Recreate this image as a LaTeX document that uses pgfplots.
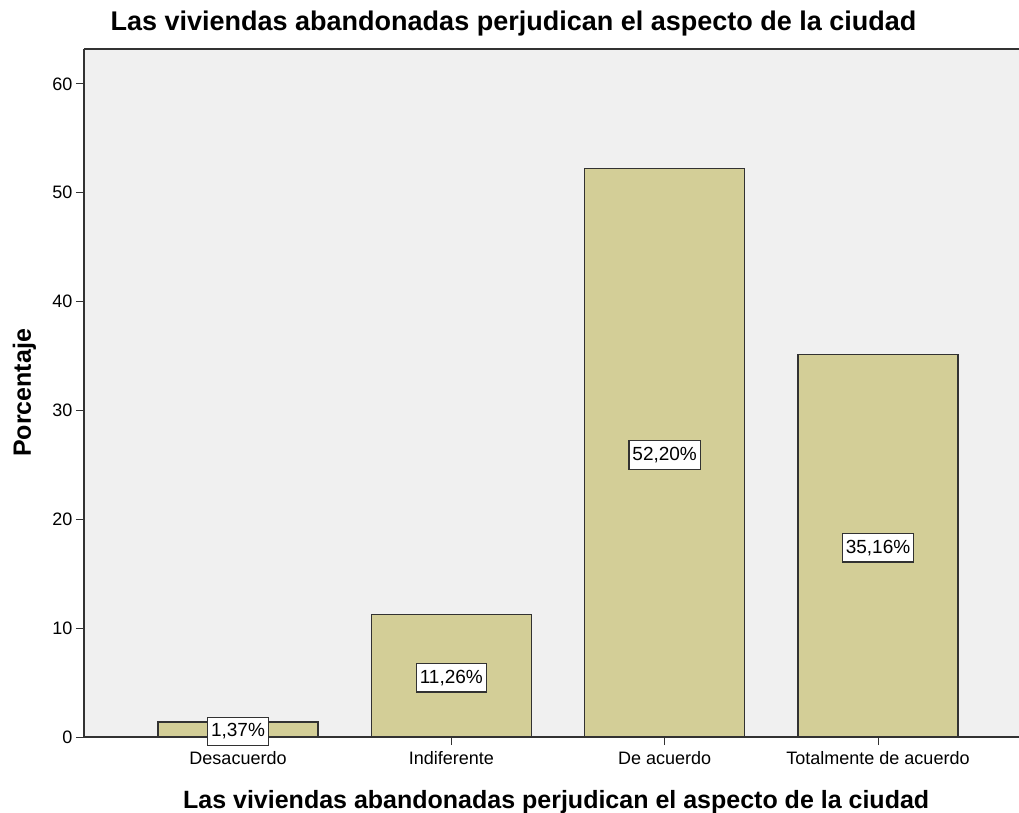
\documentclass[border=0pt]{standalone}
\usepackage{pgfplots}
\pgfplotsset{compat=1.18}
\usepackage{fontspec}
\setmainfont{Liberation Sans}
\definecolor{barfill}{RGB}{211,206,151}
\definecolor{bgc}{RGB}{240,240,240}
\definecolor{edge}{RGB}{50,50,50}
\begin{document}
\begin{tikzpicture}
\begin{axis}[
  scale only axis, width=935pt, height=688pt,
  xmin=-0.722, xmax=3.661, ymin=0, ymax=63.2,
  axis x line=box, axis y line=left,
  axis line style={-, draw=edge, line width=1.3pt},
  axis background/.style={fill=bgc},
  xtick={0,1,2,3},
  xticklabels={Desacuerdo, Indiferente, De acuerdo, Totalmente de acuerdo},
  ytick={0,10,...,60},
  xtick pos=bottom, ytick pos=left,
  tick align=outside, major tick length=8pt,
  tick style={draw=edge, line width=1pt},
  ticklabel style={font=\fontsize{18}{20}\selectfont},
  xticklabel style={yshift=-3pt},
  /pgf/number format/assume math mode=true,
  title={Las viviendas abandonadas perjudican el aspecto de la ciudad},
  title style={font=\bfseries\fontsize{27}{30}\selectfont, at={([yshift=12pt]axis description cs:0.4594,1)}, anchor=base},
  xlabel={Las viviendas abandonadas perjudican el aspecto de la ciudad},
  xlabel style={font=\bfseries\fontsize{25}{28}\selectfont, at={([yshift=-71pt]axis description cs:0.505,0)}, anchor=base},
  ylabel={Porcentaje},
  ylabel style={font=\bfseries\fontsize{25}{28}\selectfont, at={([xshift=-53pt]axis description cs:0,0.5)}, anchor=base, rotate=0},
]
\coordinate (O) at (rel axis cs:0,0);
\addplot[ybar, bar width=0.75, fill=barfill, draw=edge, line width=1.2pt]
  coordinates {(0,1.37) (1,11.26) (2,52.20) (3,35.16)};
\addplot[draw=none, mark=none, nodes near coords, point meta=explicit symbolic,
  nodes near coords align=center,
  every node near coord/.append style={fill=white, draw=edge, line width=1.2pt, inner xsep=3.5pt, inner ysep=6.5pt, yshift=-2pt, font=\fontsize{19}{21}\selectfont}]
  coordinates {(0,0.685)[1,37\%] (1,5.63)[11,26\%] (2,26.10)[52,20\%] (3,17.58)[35,16\%]};
\end{axis}
\pgfresetboundingbox
\path (O) ++(-84pt,-76pt) rectangle ++(1019pt,813pt);
\end{tikzpicture}
\end{document}
